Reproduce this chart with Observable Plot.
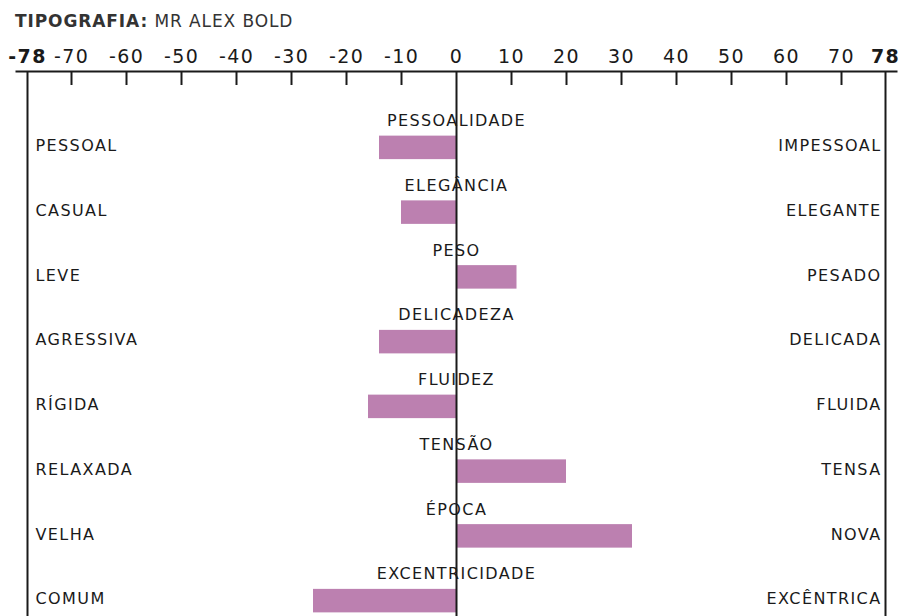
<!DOCTYPE html>
<html>
<head>
<meta charset="utf-8">
<script src="https://cdn.jsdelivr.net/npm/d3@7"></script>
<script src="https://cdn.jsdelivr.net/npm/@observablehq/plot@0.6"></script>
<style>
  html, body { margin: 0; padding: 0; background: #fff; }
  #title { height: 35px; box-sizing: border-box; padding: 11px 0 0 15px; line-height: 20px;
           font-family: "DejaVu Sans", sans-serif; font-size: 17px; letter-spacing: 0.9px; color: #333; white-space: nowrap; }
  #title b { font-weight: bold; }
</style>
</head>
<body>
<div id="title"><b>TIPOGRAFIA:</b> MR ALEX BOLD</div>
<div id="chart"></div>
<script>
const categories = ["PESSOALIDADE","ELEGÂNCIA","PESO","DELICADEZA","FLUIDEZ","TENSÃO","ÉPOCA","EXCENTRICIDADE"];
const values = [-14, -10, 11, -14, -16, 20, 32, -26];
const leftLabels = ["PESSOAL","CASUAL","LEVE","AGRESSIVA","RÍGIDA","RELAXADA","VELHA","COMUM"];
const rightLabels = ["IMPESSOAL","ELEGANTE","PESADO","DELICADA","FLUIDA","TENSA","NOVA","EXCÊNTRICA"];
const innerTicks = [-70, -60, -50, -40, -30, -20, -10, 0, 10, 20, 30, 40, 50, 60, 70];
const extremes = [-78, 78];
const xDomain = [-80, 80];

const data = categories.map((c, i) => ({category: c, value: values[i], left: leftLabels[i], right: rightLabels[i]}));

const H = 581, MT = 36;
const chart = Plot.plot({
  width: 899,
  height: H,
  marginTop: MT,
  marginBottom: 0,
  marginLeft: 16,
  marginRight: 3,
  style: {fontFamily: "DejaVu Sans, sans-serif", fontSize: "16px", letterSpacing: "1.4px", color: "#1a1a1a", background: "#fff", overflow: "visible"},
  x: {domain: xDomain, axis: null},
  y: {domain: categories, range: [80, 598], paddingInner: 0.637, paddingOuter: 0.3185, round: false, axis: null},
  marks: [
    Plot.barX(data, {x: "value", y: "category", fill: "#bc80b0"}),
    Plot.frame({anchor: "top", stroke: "#1a1a1a", strokeWidth: 2}),
    Plot.ruleX(innerTicks.filter(d => d !== 0), {x: d => d, stroke: "#1a1a1a", strokeWidth: 2, insetBottom: H - MT - 14}),
    Plot.ruleX([extremes[0], 0, extremes[1]], {x: d => d, stroke: "#1a1a1a", strokeWidth: 2}),
    Plot.text(innerTicks, {x: d => d, text: d => String(d), frameAnchor: "top", dy: -15, lineAnchor: "middle", fontSize: 19, letterSpacing: "0.6px", fill: "#1a1a1a"}),
    Plot.text(extremes, {x: d => d, text: d => String(d), frameAnchor: "top", dy: -15, lineAnchor: "middle", fontSize: 19, fontWeight: "bold", letterSpacing: "0px", fill: "#1a1a1a"}),
    Plot.text(data, {x: () => 0, y: "category", text: "category", dy: -27, lineAnchor: "middle", fill: "#1a1a1a"}),
    Plot.text(data, {x: () => extremes[0], y: "category", text: "left", textAnchor: "start", dx: 8, dy: -2, lineAnchor: "middle", fill: "#1a1a1a"}),
    Plot.text(data, {x: () => extremes[1], y: "category", text: "right", textAnchor: "end", dx: -4, dy: -2, lineAnchor: "middle", fill: "#1a1a1a"})
  ]
});
document.getElementById("chart").appendChild(chart);
</script>
</body>
</html>
